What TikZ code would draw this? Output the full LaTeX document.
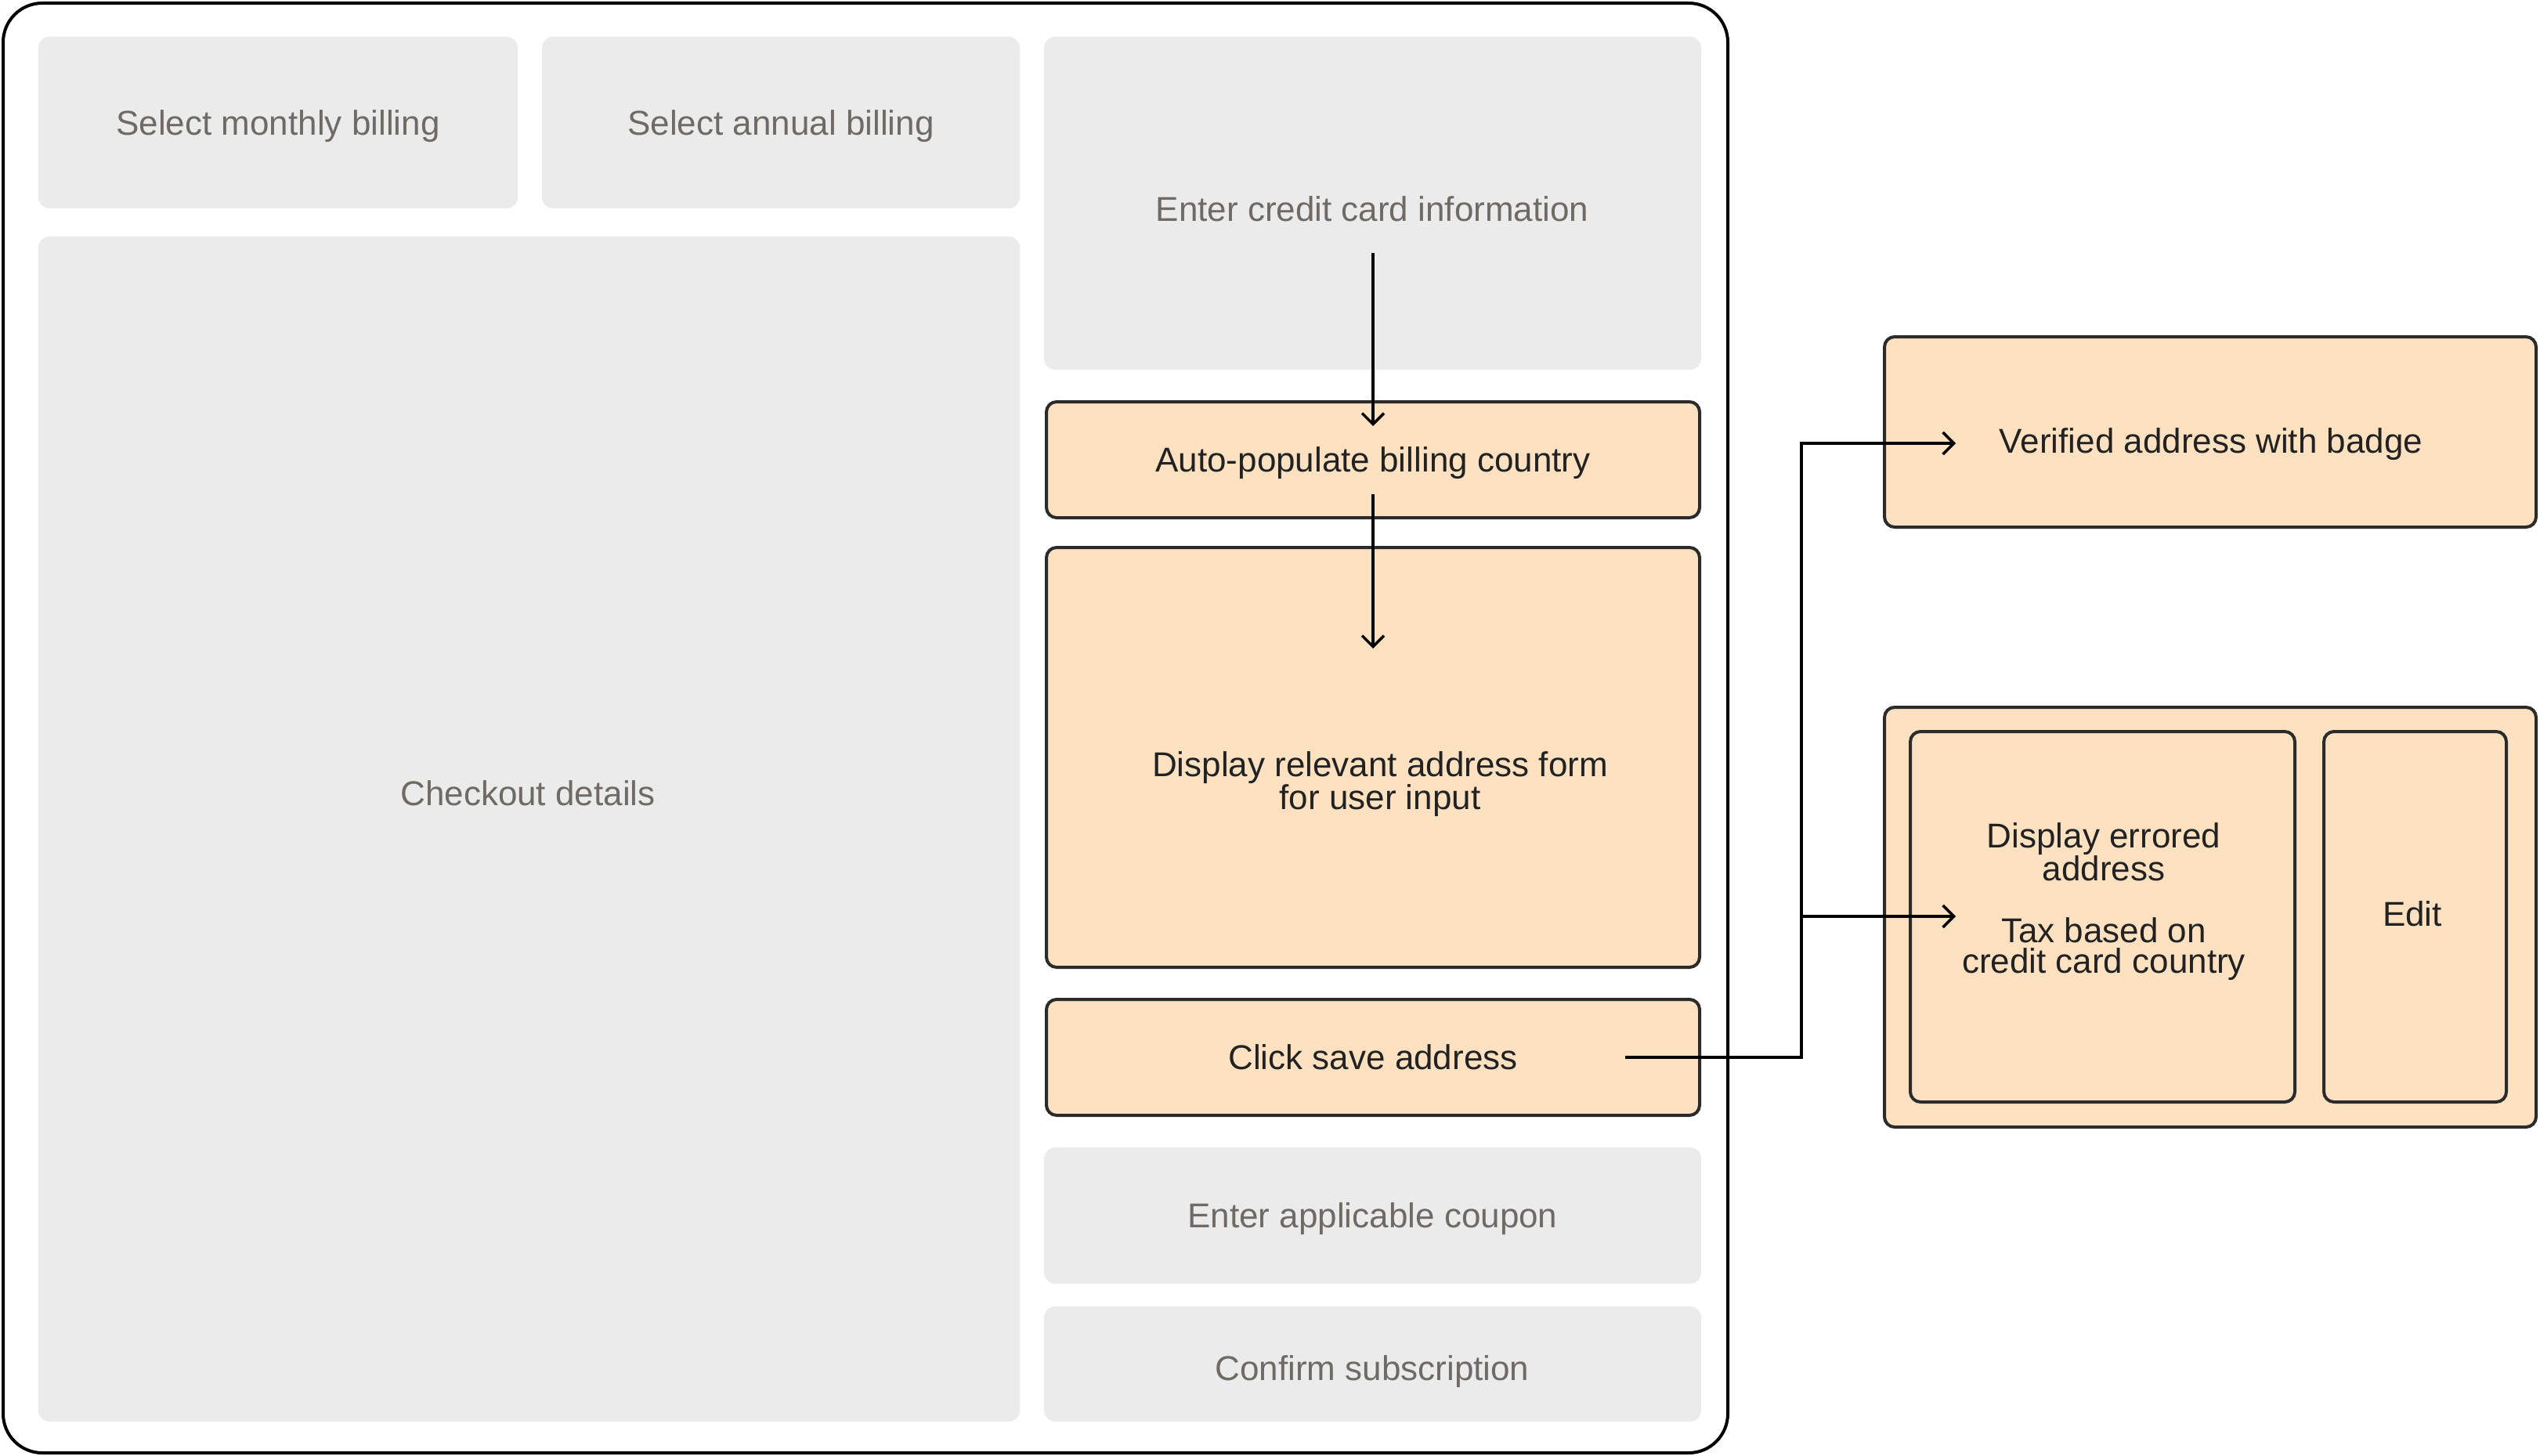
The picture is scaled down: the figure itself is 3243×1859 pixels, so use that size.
\documentclass[tikz,border=0pt]{standalone}
\usepackage{fontspec}
\setmainfont{Liberation Sans}
\usetikzlibrary{arrows.meta}
\definecolor{grayfill}{HTML}{EBEBEB}
\definecolor{graytext}{HTML}{6E6A65}
\definecolor{peach}{HTML}{FDE1C1}
\definecolor{edge}{HTML}{2B2B2B}
\definecolor{ink}{HTML}{222222}
\begin{document}
\begin{tikzpicture}[x=1pt,y=-1pt,
  frame/.style={draw=black, line width=4pt, rounded corners=50pt, inner sep=0pt, fill=white},
  graybox/.style={fill=grayfill, draw=none, rounded corners=14pt, inner sep=0pt},
  peachbox/.style={fill=peach, draw=edge, line width=4pt, rounded corners=13pt, inner sep=0pt},
  lbl/.style={font=\fontsize{44}{39.5}\selectfont, align=center, inner sep=0pt, text height=31.5pt, text depth=0pt},
  glbl/.style={lbl, text=graytext},
  dlbl/.style={lbl, text=ink},
  conn/.style={draw=black, line width=3.5pt},
  tip/.style={-{Straight Barb[length=14pt,width=28pt]}}
]
\useasboundingbox (0,0) rectangle (3243,1859);

% outer frame
\node[frame, minimum width=2202pt, minimum height=1851pt] (frame) at (1105,929.5) {};

% gray boxes
\node[graybox, glbl, minimum width=612pt, minimum height=219pt] (monthly) at (355,156.5) {Select monthly billing};
\node[graybox, glbl, minimum width=610pt, minimum height=219pt] (annual) at (997,156.5) {Select annual billing};
\node[graybox, minimum width=1253pt, minimum height=1513pt] (checkout) at (675.5,1058.5) {};
\node[glbl] (checkouttxt) at (674,1013) {Checkout details};
\node[graybox, minimum width=839pt, minimum height=425pt] (card) at (1752.5,259.5) {};
\node[glbl] (cardtxt) at (1752,267) {Enter credit card information};
\node[graybox, glbl, minimum width=839pt, minimum height=174pt] (coupon) at (1752.5,1552) {Enter applicable coupon};
\node[graybox, minimum width=839pt, minimum height=147pt] (confirm) at (1752.5,1741.5) {};
\node[glbl] (confirmtxt) at (1752,1747) {Confirm subscription};

% peach boxes
\node[peachbox, dlbl, minimum width=834pt, minimum height=148pt] (auto) at (1753,587) {Auto-populate billing country};
\node[peachbox, minimum width=834pt, minimum height=536pt] (display) at (1753,967) {};
\node[dlbl] (displaytxt) at (1762,1018) {Display relevant address form\\for user input};
\node[peachbox, dlbl, minimum width=834pt, minimum height=148pt] (save) at (1753,1350) {Click save address};

\node[peachbox, minimum width=832pt, minimum height=243pt] (verified) at (2822,551.5) {};
\node[dlbl] (verifiedtxt) at (2823,563) {Verified address with badge};

\node[peachbox, minimum width=832pt, minimum height=536pt] (errgroup) at (2822,1171) {};
\node[peachbox, minimum width=491pt, minimum height=473pt] (errbox) at (2684.5,1170.5) {};
\node[dlbl] (errtxt) at (2686,1227) {Display errored\\address\\[39.5pt]Tax based on\\credit card country};
\node[peachbox, minimum width=233pt, minimum height=473pt] (edit) at (3083.5,1170.5) {};
\node[dlbl] (edittxt) at (3080,1167) {Edit};

% connectors
\coordinate (a1s) at (1753,323);
\coordinate (a1e) at (1753,544);
\coordinate (a2s) at (1753,631);
\coordinate (a2e) at (1753,828);
\draw[conn,tip] (a1s) -- (a1e);
\draw[conn,tip] (a2s) -- (a2e);

\coordinate (sv) at (2075,1350);
\coordinate (jn) at (2300,1170);
\coordinate (ve) at (2497,566);
\coordinate (ee) at (2497,1170);
\draw[conn,tip] (sv) -- (sv -| jn) |- (ve);
\draw[conn,tip] (jn) -- (ee);
\end{tikzpicture}
\end{document}
